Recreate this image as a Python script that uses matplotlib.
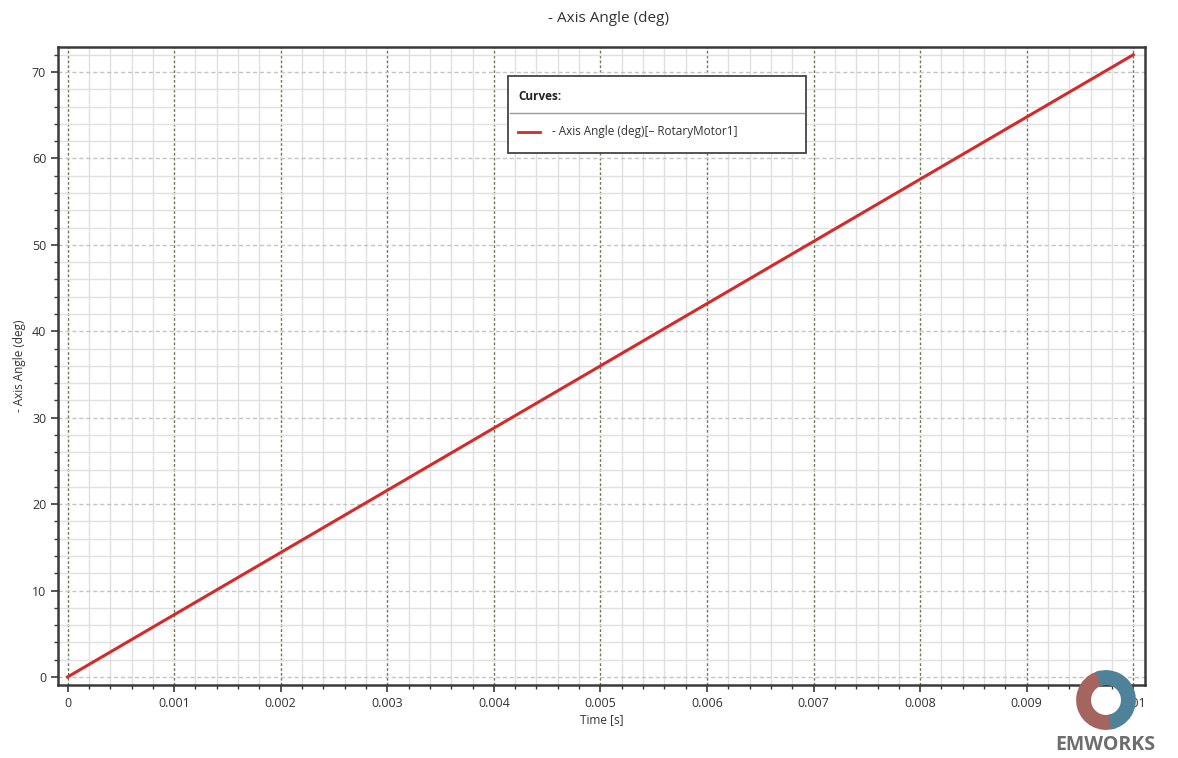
import numpy as np
import matplotlib.pyplot as plt
from matplotlib.patches import Rectangle, Wedge
from matplotlib.lines import Line2D
from matplotlib.ticker import MultipleLocator

# data
time_s = [0.0, 0.001, 0.002, 0.003, 0.004, 0.005, 0.006, 0.007, 0.008, 0.009, 0.01]
angle_deg = [0.0, 7.2, 14.4, 21.6, 28.8, 36.0, 43.2, 50.4, 57.6, 64.8, 72.0]
x_ticks = [0, 0.001, 0.002, 0.003, 0.004, 0.005, 0.006, 0.007, 0.008, 0.009, 0.01]
x_labels = ["0", "0.001", "0.002", "0.003", "0.004", "0.005", "0.006",
            "0.007", "0.008", "0.009", "0.01"]
y_ticks = [0, 10, 20, 30, 40, 50, 60, 70]

plt.rcParams['font.family'] = ['Open Sans', 'DejaVu Sans']

W, H = 1178, 758
fig = plt.figure(figsize=(11.78, 7.58), dpi=100)
ax = fig.add_axes([58 / W, 1 - 685 / H, (1145 - 58) / W, (685 - 47) / H])

ax.plot(time_s, angle_deg, color="#d42a2a", lw=2.2, zorder=5)

ax.set_xlim(-0.00009, 0.01011)
ax.set_ylim(-0.93, 72.9)
ax.set_xticks(x_ticks)
ax.set_xticklabels(x_labels)
ax.set_yticks(y_ticks)
ax.xaxis.set_minor_locator(MultipleLocator(0.0002))
ax.yaxis.set_minor_locator(MultipleLocator(2))

# grids
ax.grid(which="minor", color="#e0e0e0", lw=1.0, ls="-")
ax.grid(which="major", axis="x", color="#6f7a55", lw=1.0, ls=(0, (2, 1.5)))
ax.grid(which="major", axis="y", color="#c4c4c4", lw=1.0, ls=(0, (3, 2)))
ax.set_axisbelow(True)

for s in ax.spines.values():
    s.set_linewidth(1.8)
    s.set_color("#3a3a3a")
ax.tick_params(which="major", direction="out", length=5, width=1.2,
               color="#3a3a3a", labelsize=9, labelcolor="#333333")
ax.tick_params(which="minor", direction="out", length=3, width=1.0, color="#3a3a3a")

ax.set_xlabel("Time [s]", fontsize=8.5, color="#333333", labelpad=2)
ax.set_ylabel("- Axis Angle (deg)", fontsize=8.5, color="#333333", labelpad=4)
fig.text(608 / W, 1 - 18 / H, "- Axis Angle (deg)", ha="center", va="center",
         fontsize=11, color="#333333")

# legend box
fig.patches.append(Rectangle((508 / W, 1 - 153 / H), (806 - 508) / W, (153 - 76) / H,
                             transform=fig.transFigure, facecolor="white",
                             edgecolor="#444444", lw=1.3, zorder=10))
fig.lines.append(Line2D([510 / W, 804 / W], [1 - 113 / H, 1 - 113 / H],
                        transform=fig.transFigure, color="#999999", lw=1.0, zorder=11))
fig.text(518 / W, 1 - 97 / H, "Curves:", fontsize=8.5, fontweight="bold",
         color="#222222", va="center", zorder=12)
fig.lines.append(Line2D([518 / W, 540 / W], [1 - 132 / H, 1 - 132 / H],
                        transform=fig.transFigure, color="#d42a2a", lw=2.0, zorder=12))
fig.text(552 / W, 1 - 132 / H, "- Axis Angle (deg)[\u2013 RotaryMotor1]", fontsize=8.5,
         color="#333333", va="center", zorder=12)

# EMWORKS logo (approximation)
cx, cy, r = 1106, 700, 30
logo_ax = fig.add_axes([(cx - r - 2) / W, 1 - (cy + r + 2) / H, (2 * r + 4) / W, (2 * r + 4) / H])
logo_ax.set_xlim(-1.07, 1.07)
logo_ax.set_ylim(-1.07, 1.07)
logo_ax.set_aspect("equal")
logo_ax.axis("off")
logo_ax.add_patch(Wedge((0, 0), 1.0, 100, 290, width=0.5, facecolor="#a3655e", edgecolor="none"))
logo_ax.add_patch(Wedge((0, 0), 1.0, 280, 470, width=0.5, facecolor="#4f8298", edgecolor="none"))
fig.text(1105 / W, 1 - 745 / H, "EMWORKS", ha="center", va="center", fontsize=14,
         fontweight="bold", color="#6e6e6e")

fig.savefig("out.png", dpi=100)
